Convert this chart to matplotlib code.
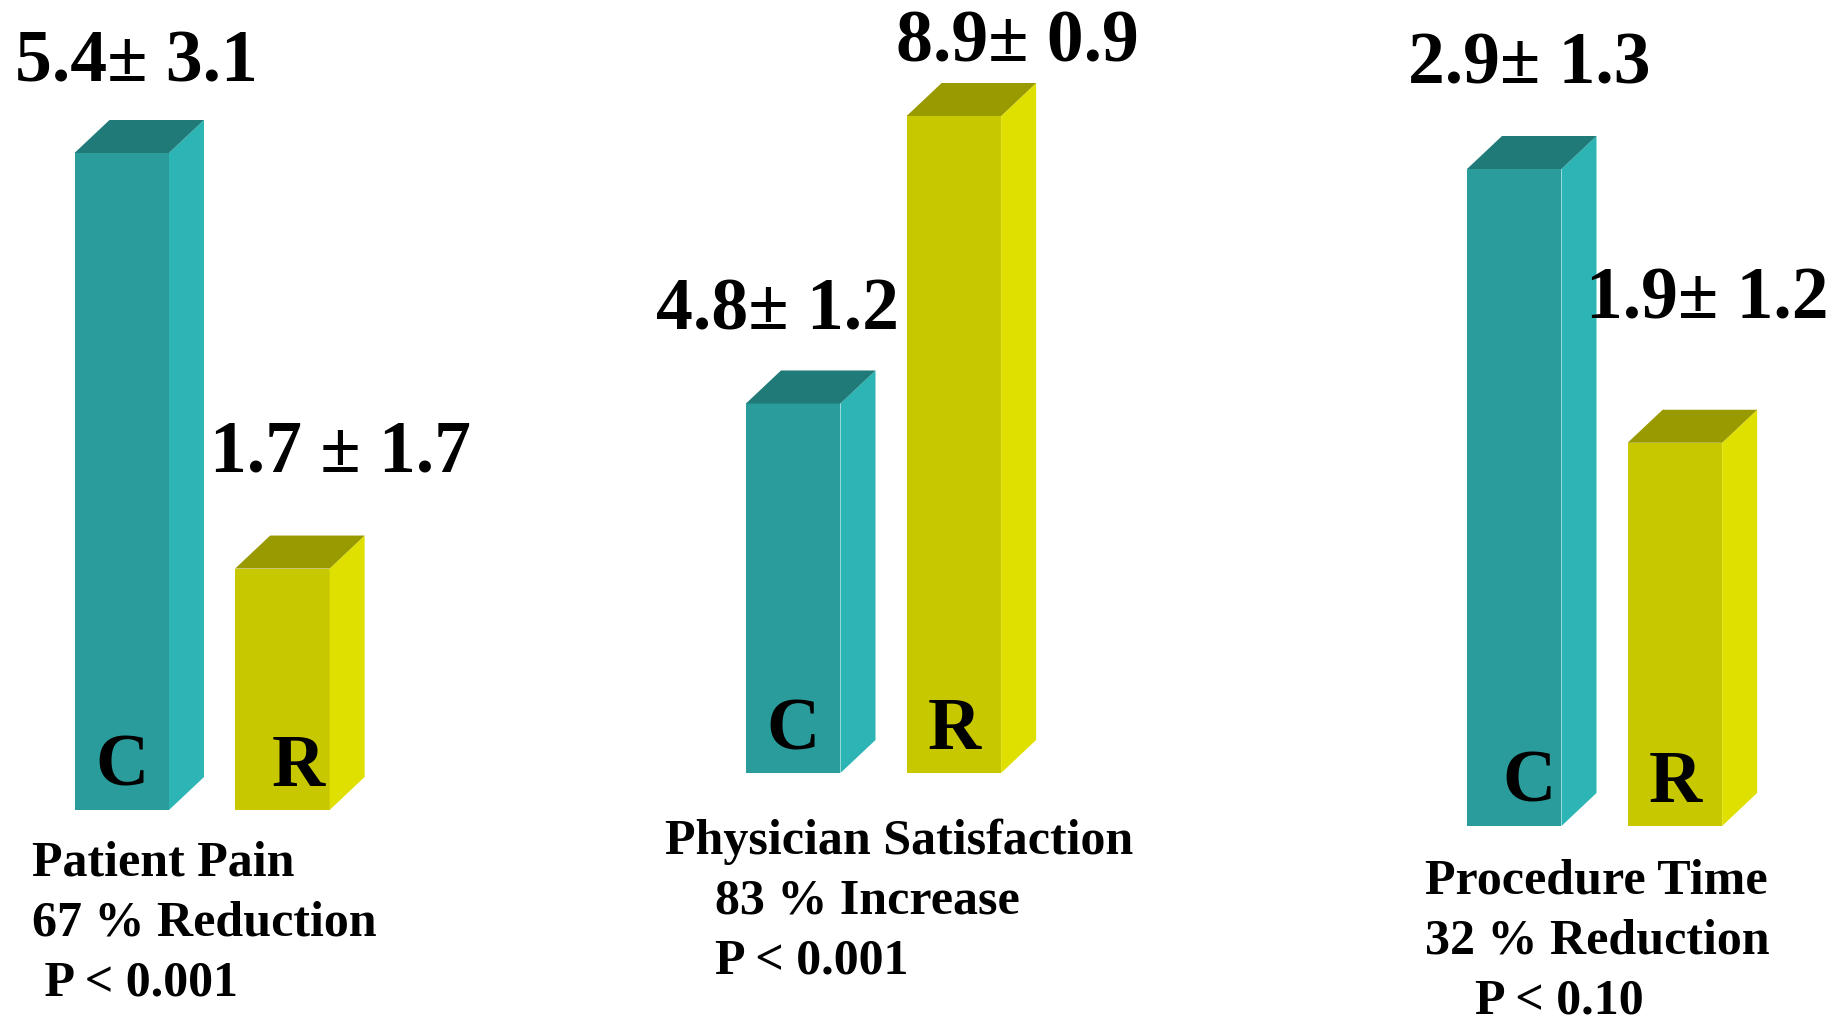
import matplotlib.pyplot as plt
from matplotlib.patches import Polygon

# dados
groups = ['Patient Pain', 'Physician Satisfaction', 'Procedure Time']
arms = ['C', 'R']
means_c = [5.4, 4.8, 2.9]
means_r = [1.7, 8.9, 1.9]
labels_c = ['5.4\u00b1 3.1', '4.8\u00b1 1.2', '2.9\u00b1 1.3']
labels_r = ['1.7 \u00b1 1.7', '8.9\u00b1 0.9', '1.9\u00b1 1.2']
changes = ['67 % Reduction', '    83 % Increase', '32 % Reduction']
p_values = [' P < 0.001', '    P < 0.001', '    P < 0.10']

# cores: frente, lateral, topo
COLORS = {
    'C': ('#299c9b', '#2db4b4', '#1f7a78'),
    'R': ('#c8c800', '#e0e000', '#999900'),
}
FONT = ['Liberation Serif', 'DejaVu Serif']

W, H = 1840, 1026
fig = plt.figure(figsize=(W / 100, H / 100), dpi=100)
fig.patch.set_facecolor('white')

# layout em pixels
panel_left = [74.5, 746, 1467]
panel_base = [810, 773, 826]
axis_floor = [-0.45, -0.47, 0.5]
BAR_PX = 94.5
AX_W, AX_H = 300, 657
DEPTH_X, DEPTH_Y = 35, 33
R_POS = 1.7

offsets_c = [(15, 71), (-16, 74), (15, 85)]
offsets_r = [(58, 97), (63, 55), (32, 124)]
letter_dx_c = [0, 0, 15]
letter_dx_r = [16, 0, 0]

text_left = [32, 665, 1425]
text_base = [876, 854, 894]
LINE_STEP = 60


def draw_bar(ax, x0, val, floor, arm, ddx, ddy, letter_dx):
    front, side, top = COLORS[arm]
    b = ax.bar(x0, val - floor, bottom=floor, width=1, align='edge',
               color=front, linewidth=0)[0]
    x1 = b.get_x() + b.get_width()
    y1 = b.get_y() + b.get_height()
    ax.add_patch(Polygon([(x1, floor), (x1 + ddx, floor + ddy),
                          (x1 + ddx, y1 + ddy), (x1, y1)],
                         closed=True, color=side, lw=0, clip_on=False))
    ax.add_patch(Polygon([(x0, y1), (x1, y1), (x1 + ddx, y1 + ddy),
                          (x0 + ddx, y1 + ddy)],
                         closed=True, color=top, lw=0, clip_on=False))
    # letra do grupo dentro da barra
    ax.annotate(arm, (x0 + 0.5, floor), xytext=(letter_dx, 24),
                textcoords='offset pixels', ha='center', va='baseline',
                fontsize=53, fontweight='bold', family=FONT)


for i in range(len(groups)):
    left, base, floor = panel_left[i], panel_base[i], axis_floor[i]
    ax = fig.add_axes([left / W, (H - base) / H, AX_W / W, AX_H / H])
    top_val = max(means_c[i], means_r[i])
    ax.set_xlim(0, AX_W / BAR_PX)
    ax.set_ylim(floor, top_val)
    ax.axis('off')

    ddx = DEPTH_X / BAR_PX
    ddy = DEPTH_Y * (top_val - floor) / AX_H

    bars = [(0, means_c[i], 'C', labels_c[i], offsets_c[i], letter_dx_c[i]),
            (R_POS, means_r[i], 'R', labels_r[i], offsets_r[i], letter_dx_r[i])]
    for x0, val, arm, lab, off, ldx in bars:
        draw_bar(ax, x0, val, floor, arm, ddx, ddy, ldx)
        ax.annotate(lab, (x0 + 0.5, val), xytext=off,
                    textcoords='offset pixels', ha='center', va='baseline',
                    fontsize=53, fontweight='bold', family=FONT,
                    annotation_clip=False)

    # texto da categoria
    for k, line in enumerate([groups[i], changes[i], p_values[i]]):
        y = text_base[i] + k * LINE_STEP
        fig.text(text_left[i] / W, 1 - y / H, line, ha='left', va='baseline',
                 fontsize=36, fontweight='bold', family=FONT)

fig.savefig('out.png', dpi=100, facecolor='white')
